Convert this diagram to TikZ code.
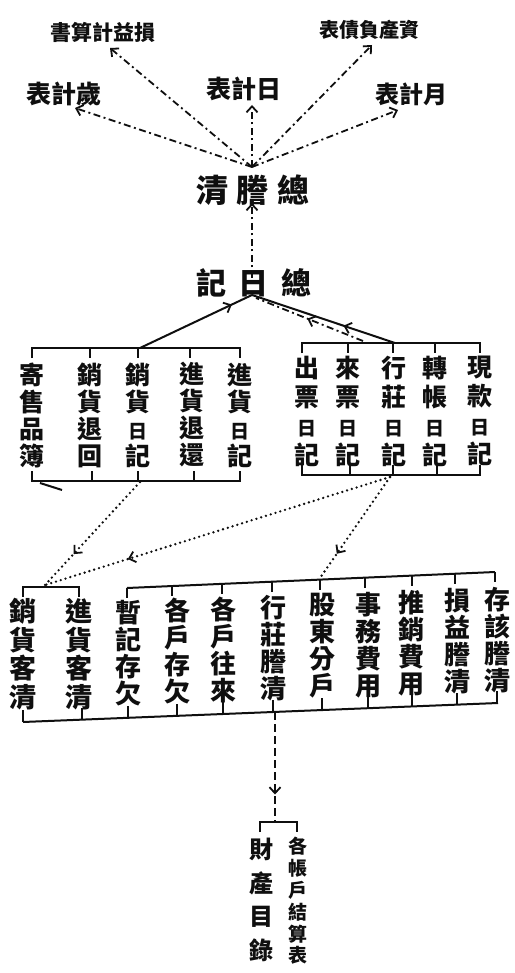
\documentclass[tikz,border=0pt]{standalone}
\usepackage{fontspec}
\newfontfamily\cjk{Noto Sans CJK TC}
\usetikzlibrary{arrows.meta,decorations.markings}
\definecolor{inkblack}{RGB}{15,15,15}

\tikzset{
    >={Straight Barb[length=6pt,width=11pt,line width=1.8pt]},
    inkline/.style={inkblack, line width=2pt},
    dashdot/.style={inkblack, line width=1.8pt, dash pattern=on 7pt off 3.5pt on 2pt off 3.5pt},
    dashline/.style={inkblack, line width=2pt, dash pattern=on 8pt off 4pt},
    dotline/.style={inkblack, line width=2.6pt, line cap=round, dash pattern=on 0pt off 5pt},
    midarrow/.style={postaction={decorate}, decoration={markings,
        mark=at position #1 with {\arrow{>}}}},
    biglabel/.style={inkblack, inner sep=0pt, font=\cjk\bfseries\fontsize{32}{32}\selectfont},
    toplabel/.style={inkblack, inner sep=0pt, font=\cjk\bfseries\fontsize{#1}{#1}\selectfont},
    col/.style 2 args={inkblack, inner sep=0pt, align=center, font=\cjk\bfseries\fontsize{#1}{#2}\selectfont}
}
\newcommand{\sm}[1]{{\fontsize{19}{19}\selectfont #1}}

\begin{document}
\begin{tikzpicture}[x=1pt,y=-1pt]
    \useasboundingbox (0,0) rectangle (514,973);
    \fill[white] (0,0) rectangle (514,973);

    % Statements at the top
    \node[toplabel=21] (sunyi) at (103,32) {書算計益損};
    \node[toplabel=20] (zichan) at (369,30) {表債負產資};
    \node[toplabel=25] (suiji) at (64,94) {表計歲};
    \node[toplabel=25] (riji) at (244,89) {表計日};
    \node[toplabel=24] (yueji) at (411,94) {表計月};

    % General ledger and general journal
    \node[biglabel] (zongqing) at (253,190) {清\hspace{9pt}謄\hspace{9pt}總};
    \node[biglabel, font=\cjk\bfseries\fontsize{30}{30}\selectfont] (zongri) at (254,283) {記\hspace{13pt}日\hspace{13pt}總};

    % Arrows from the ledger to the statements
    \coordinate (qtop) at (252,167);
    \coordinate (sunyi-tip) at (110,48);
    \coordinate (zichan-tip) at (372,45);
    \coordinate (suiji-tip) at (75,108);
    \coordinate (riji-tip) at (252,105);
    \coordinate (yueji-tip) at (398,110);
    \foreach \t in {sunyi-tip,zichan-tip,suiji-tip,riji-tip,yueji-tip}
        \draw[dashdot,->] (qtop) -- (\t);

    % Journal up to ledger
    \coordinate (rtop) at (252,278);
    \coordinate (qbot) at (252,203);
    \draw[dashdot,->] (rtop) -- (qbot);

    % Left group of journals
    \node[col={25}{27}] (jishou) at (32,415) {寄\\售\\品\\簿};
    \node[col={25}{27}] (xiaotui) at (90,415) {銷\\貨\\退\\回};
    \node[col={25}{27}] (xiaori) at (138,415) {銷\\貨\\\sm{日}\\記};
    \node[col={25}{27}] (jintui) at (192,415) {進\\貨\\退\\還};
    \node[col={25}{27}] (jinri) at (240,415) {進\\貨\\\sm{日}\\記};
    \draw[inkline] (32,358) -- (32,348) -- (240,348) -- (240,358);
    \foreach \x in {90,138,190} \draw[inkline] (\x,348) -- (\x,358);
    \draw[inkline] (32,471) -- (32,481) -- (240,481) -- (240,471);
    \foreach \x in {92,138,194} \draw[inkline] (\x,481) -- (\x,471);
    \draw[inkline] (40,483) -- (62,490);

    % Right group of journals
    \node[col={25}{29}] (chupiao) at (307,411) {出\\票\\\sm{日}\\記};
    \node[col={25}{29}] (laipiao) at (348,411) {來\\票\\\sm{日}\\記};
    \node[col={25}{29}] (hangzhuang) at (394,411) {行\\莊\\\sm{日}\\記};
    \node[col={25}{29}] (zhuanzhang) at (435,411) {轉\\帳\\\sm{日}\\記};
    \node[col={25}{29}] (xiankuan) at (480,411) {現\\款\\\sm{日}\\記};
    \draw[inkline] (302,353) -- (302,343) -- (480,343) -- (480,353);
    \foreach \x in {348,393,435} \draw[inkline] (\x,343) -- (\x,353);
    \draw[inkline] (302,465) -- (302,475) -- (480,475) -- (480,465);
    \foreach \x in {350,393,437} \draw[inkline] (\x,475) -- (\x,465);

    % Journals to general journal
    \coordinate (rapex) at (252,295);
    \coordinate (lgtop) at (140,348);
    \coordinate (rgtop) at (395,343);
    \coordinate (rgtop2) at (363,341);
    \coordinate (rapex2) at (256,298);
    \draw[inkline,midarrow=0.82] (lgtop) -- (rapex);
    \draw[inkline,midarrow=0.36] (rgtop) -- (rapex);
    \draw[dashdot,midarrow=0.52] (rgtop2) -- (rapex2);

    % Customer ledgers
    \node[col={27}{28.5}] (xiaoke) at (23,654) {銷\\貨\\客\\清};
    \node[col={27}{28.5}] (jinke) at (79,654) {進\\貨\\客\\清};
    \draw[inkline] (23,597) -- (23,587) -- (79,587) -- (79,597);

    % Other ledgers
    \node[col={26}{27}] (zanji) at (128,653) {暫\\記\\存\\欠};
    \node[col={26}{27}] (gecun) at (177,651) {各\\戶\\存\\欠};
    \node[col={26}{27}] (gewang) at (223,650) {各\\戶\\往\\來};
    \node[col={26}{27}] (hangqing) at (273,648) {行\\莊\\謄\\清};
    \node[col={26}{27}] (gudong) at (322,646) {股\\東\\分\\戶};
    \node[col={26}{27}] (shiwu) at (368,645) {事\\務\\費\\用};
    \node[col={26}{27}] (tuixiao) at (411,643) {推\\銷\\費\\用};
    \node[col={26}{27}] (sunqing) at (457,641) {損\\益\\謄\\清};
    \node[col={26}{27}] (cunqing) at (497,640) {存\\該\\謄\\清};
    \draw[inkline] (127,588) -- (495,572);
    \foreach \x in {127,172,222,272,320,365,412,455,495}
        \draw[inkline] (\x,{588-(\x-127)*16/368}) -- ++(0,10);
    \draw[inkline] (23,722) -- (498,703);
    \foreach \x in {23,82,128,177,223,273,322,368,412,457,497}
        \draw[inkline] (\x,{722-(\x-23)*19/475}) -- ++(0,-12);

    % Journals to ledgers
    \coordinate (lgbot) at (140,482);
    \coordinate (rgbot) at (390,477);
    \coordinate (kbtop) at (45,585);
    \coordinate (bigtop) at (320,578);
    \draw[dotline,midarrow=0.7] (lgbot) -- (kbtop);
    \draw[dotline,midarrow=0.76] (rgbot) -- (kbtop);
    \draw[dotline,midarrow=0.76] (rgbot) -- (bigtop);

    % Inventory and trial balance
    \coordinate (hqbot) at (275,712);
    \coordinate (lasttop) at (275,822);
    \draw[dashline,midarrow=0.75] (hqbot) -- (lasttop);
    \draw[inkline] (260,832) -- (260,822) -- (297,822) -- (297,832);
    \node[col={24}{33.5}] (caichan) at (261,900) {財\\產\\目\\錄};
    \node[col={19}{21.8}] (jiesuan) at (298,901) {各\\帳\\戶\\結\\算\\表};
\end{tikzpicture}
\end{document}
